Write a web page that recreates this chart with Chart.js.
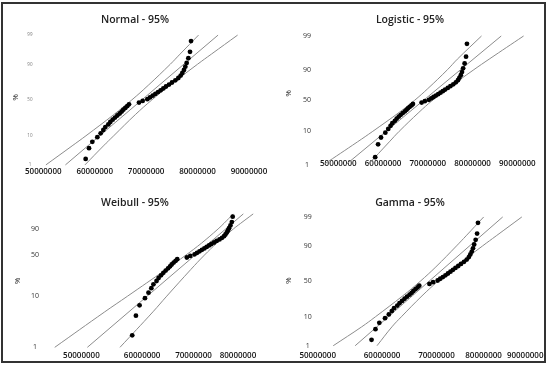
<!DOCTYPE html>
<html>
<head>
<meta charset="utf-8">
<script src="https://cdn.jsdelivr.net/npm/chart.js@4.4.0/dist/chart.umd.min.js"></script>
<style>
body { margin: 0; background: #fff; }
#wrap { position: relative; width: 550px; height: 366px; }
#wrap canvas { position: absolute; }
#frame { position: absolute; left: 1px; top: 2px; width: 541px; height: 357px; border: 2px solid #333; pointer-events: none; }
</style>
</head>
<body>
<div id="wrap">
  <canvas id="normal" width="275" height="183" style="left:0;top:0"></canvas>
  <canvas id="logistic" width="275" height="183" style="left:275px;top:0"></canvas>
  <canvas id="weibull" width="275" height="183" style="left:0;top:183px"></canvas>
  <canvas id="gamma" width="275" height="183" style="left:275px;top:183px"></canvas>
  <div id="frame"></div>
</div>
<script>
// sample values (millions) and their plotted percentiles
const sample = [58.24, 58.89, 59.54, 60.51, 61.16, 61.68, 62.07, 62.65, 63.04, 63.50,
                63.95, 64.40, 64.86, 65.25, 65.57, 65.96, 66.35, 66.67, 68.62, 69.33,
                70.24, 70.76, 71.28, 71.80, 72.32, 72.83, 73.35, 73.87, 74.46, 75.04,
                75.69, 76.27, 76.73, 77.05, 77.37, 77.63, 77.89, 78.22, 78.54, 78.74];
const samplePct = [1.73, 4.21, 6.68, 9.16, 11.63, 14.11, 16.58, 19.06, 21.53, 24.01,
                   26.49, 28.96, 31.44, 33.91, 36.39, 38.86, 41.34, 43.81, 46.29, 48.76,
                   51.24, 53.71, 56.19, 58.66, 61.14, 63.61, 66.09, 68.56, 71.04, 73.51,
                   75.99, 78.47, 80.94, 83.42, 85.89, 88.37, 90.84, 93.32, 95.79, 98.27];

// fitted line and 95% bands
const fitPct = [1, 99];
const bandPct = [1, 5, 10, 30, 50, 70, 90, 95, 99];

const normalFit = [54.3, 84.0];
const normalLow = [50.5, 55.6, 58.3, 63.7, 67.2, 70.4, 74.7, 76.6, 80.2];
const normalHigh = [58.1, 61.7, 63.7, 67.9, 71.1, 74.6, 80.0, 82.7, 87.8];

const logisticFit = [51.6, 86.4];
const logisticLow = [46.6, 54.3, 57.7, 63.6, 67.0, 70.0, 74.4, 76.6, 82.0];
const logisticHigh = [56.6, 61.4, 63.6, 68.0, 71.0, 74.4, 80.3, 83.7, 91.4];

const weibullFit = [50.9, 81.3];
const weibullLow = [46.15, 53.63, 57.43, 64.41, 68.41, 71.72, 75.36, 76.73, 78.89];
const weibullHigh = [56.14, 61.98, 64.60, 69.42, 72.33, 75.09, 78.90, 80.67, 83.75];

const gammaFit = [55.6, 84.45];
const gammaLow = [52.25, 56.63, 58.88, 63.62, 66.84, 69.89, 74.10, 76.13, 80.02];
const gammaHigh = [59.15, 61.70, 63.37, 67.19, 70.28, 73.81, 79.78, 82.92, 89.15];

// tick labels
const xTicks = [50, 60, 70, 80, 90];
const xTicksWeibull = [50, 60, 70, 80];
const yTicks = [1, 10, 50, 90, 99];
const yTicksWeibull = [1, 10, 50, 90];

// probability paper transforms
function probit(p) {
  const a = [-3.969683028665376e+01, 2.209460984245205e+02, -2.759285104469687e+02, 1.383577518672690e+02, -3.066479806614716e+01, 2.506628277459239e+00];
  const b = [-5.447609879822406e+01, 1.615858368580409e+02, -1.556989798598866e+02, 6.680131188771972e+01, -1.328068155288572e+01];
  const c = [-7.784894002430293e-03, -3.223964580411365e-01, -2.400758277161838e+00, -2.549671324238850e+00, 4.374664141464968e+00, 2.938163982698783e+00];
  const d = [7.784695709041462e-03, 3.224671290700398e-01, 2.445134137142996e+00, 3.754408661907416e+00];
  const pl = 0.02425;
  let q, r;
  if (p < pl) {
    q = Math.sqrt(-2 * Math.log(p));
    return (((((c[0]*q+c[1])*q+c[2])*q+c[3])*q+c[4])*q+c[5]) / ((((d[0]*q+d[1])*q+d[2])*q+d[3])*q+1);
  }
  if (p > 1 - pl) {
    q = Math.sqrt(-2 * Math.log(1 - p));
    return -(((((c[0]*q+c[1])*q+c[2])*q+c[3])*q+c[4])*q+c[5]) / ((((d[0]*q+d[1])*q+d[2])*q+d[3])*q+1);
  }
  q = p - 0.5; r = q * q;
  return (((((a[0]*r+a[1])*r+a[2])*r+a[3])*r+a[4])*r+a[5])*q / (((((b[0]*r+b[1])*r+b[2])*r+b[3])*r+b[4])*r+1);
}
const logit = p => Math.log(p / (1 - p));
const weib = p => Math.log(-Math.log(1 - p));

const FONT = "'Open Sans', sans-serif";
const LINE = '#8c8c8c';

function pts(xs, ps, tf) {
  return xs.map((x, i) => ({ x: x, y: tf(ps[i] / 100) }));
}

function makePanel(id, o) {
  const lineSet = (data, tension) => ({
    data: data, showLine: true, pointRadius: 0, borderColor: LINE,
    borderWidth: 1, tension: tension, clip: false
  });
  new Chart(document.getElementById(id), {
    type: 'scatter',
    data: {
      datasets: [
        { data: pts(sample, samplePct, o.tf), pointRadius: 2.4, backgroundColor: '#000',
          borderWidth: 0, clip: false },
        lineSet(pts(o.fit, fitPct, o.tf), 0),
        lineSet(pts(o.low, bandPct, o.tf), 0.4),
        lineSet(pts(o.high, bandPct, o.tf), 0.4)
      ]
    },
    options: {
      responsive: false,
      animation: false,
      events: [],
      layout: { padding: { left: 0, right: 5, top: 0, bottom: 0 } },
      plugins: {
        legend: { display: false },
        tooltip: { enabled: false },
        title: {
          display: true, text: o.title, color: '#222',
          font: { family: FONT, size: 10.5, weight: '600' },
          padding: { top: 13.7, bottom: 1.7 }
        }
      },
      scales: {
        x: {
          type: o.xType, min: o.xMin, max: o.xMax, bounds: 'data',
          grid: { display: false, drawTicks: false }, border: { display: false },
          afterBuildTicks: s => { s.ticks = o.xTicks.map(v => ({ value: v })); },
          afterFit: s => { s.height = o.xH; },
          ticks: {
            autoSkip: false, maxRotation: 0, padding: 0, color: '#111',
            font: { family: FONT, size: 8, weight: '600' },
            callback: (v, i) => String(o.xTicks[i] * 1000000)
          }
        },
        y: {
          type: 'linear', min: o.yMin, max: o.yMax, bounds: 'data',
          grid: { display: false, drawTicks: false }, border: { display: false },
          afterBuildTicks: s => { s.ticks = o.yTicks.map(v => ({ value: o.tf(v / 100) })); },
          afterFit: s => { s.width = o.yW; },
          title: {
            display: true, text: '%', color: '#222',
            font: { family: FONT, size: 8 },
            padding: { top: o.pctPad, bottom: 0 }
          },
          ticks: {
            autoSkip: false, crossAlign: 'center', padding: o.yPad, color: o.yColor,
            font: { family: FONT, size: o.ySize },
            callback: (v, i) => String(o.yTicks[i])
          }
        }
      }
    }
  });
}

makePanel('normal', {
  title: 'Normal - 95%', tf: probit, xType: 'linear',
  xMin: 49.36, xMax: 94.10, yMin: -2.401, yMax: 2.581,
  xTicks: xTicks, yTicks: yTicks, fit: normalFit, low: normalLow, high: normalHigh,
  xH: 16, yW: 40, yPad: 7.5, ySize: 4.5, yColor: '#777', pctPad: 11
});
makePanel('logistic', {
  title: 'Logistic - 95%', tf: logit, xType: 'linear',
  xMin: 47.03, xMax: 96.18, yMin: -4.167, yMax: 5.164,
  xTicks: xTicks, yTicks: yTicks, fit: logisticFit, low: logisticLow, high: logisticHigh,
  xH: 24, yW: 50, yPad: 14, ySize: 7, yColor: '#333', pctPad: 9
});
makePanel('weibull', {
  title: 'Weibull - 95%', tf: weib, xType: 'logarithmic',
  xMin: 45.5, xMax: 88.08, yMin: -4.759, yMax: 1.66,
  xTicks: xTicksWeibull, yTicks: yTicksWeibull, fit: weibullFit, low: weibullLow, high: weibullHigh,
  xH: 15, yW: 50, yPad: 11, ySize: 7, yColor: '#333', pctPad: 13
});
makePanel('gamma', {
  title: 'Gamma - 95%', tf: probit, xType: 'logarithmic',
  xMin: 49.62, xMax: 95.2, yMin: -2.499, yMax: 2.542,
  xTicks: xTicks, yTicks: yTicks, fit: gammaFit, low: gammaLow, high: gammaHigh,
  xH: 15.5, yW: 40, yPad: 3.3, ySize: 7, yColor: '#333', pctPad: 9
});
</script>
</body>
</html>
